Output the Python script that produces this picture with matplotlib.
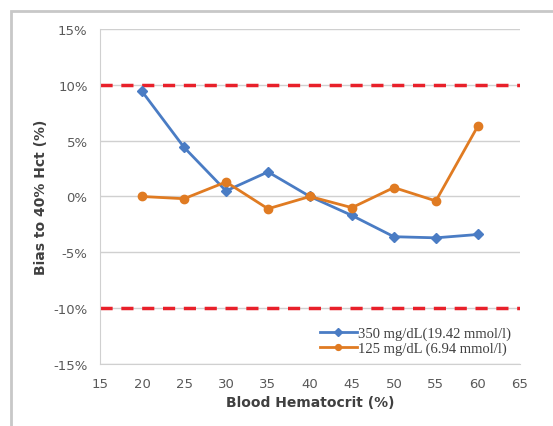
import numpy as np
import matplotlib
matplotlib.use('Agg')
import matplotlib.pyplot as plt
from matplotlib.patches import Rectangle
from matplotlib.ticker import FuncFormatter

hct = [20, 25, 30, 35, 40, 45, 50, 55, 60]
bias_350 = [9.4, 4.4, 0.5, 2.2, 0.0, -1.7, -3.6, -3.7, -3.4]
bias_125 = [0.0, -0.2, 1.3, -1.1, 0.0, -1.0, 0.8, -0.4, 6.3]
labels = ['350 mg/dL(19.42 mmol/l)', '125 mg/dL (6.94 mmol/l)']
limits = [10, -10]

fig = plt.figure(figsize=(5.53, 4.27), dpi=100)
# outer chart frame (runs off the bottom/right of the image)
fig.patches.append(Rectangle((0.02, -0.05), 1.1, 1.022, transform=fig.transFigure,
                             fill=False, edgecolor='#c8c8c8', lw=2))
ax = fig.add_axes([0.181, 0.145, 0.759, 0.785])

for v in limits:
    ax.axhline(v, color='#e8202a', lw=2.5, ls=(0, (3.5, 2.5)), zorder=2)
ax.plot(hct, bias_350, color='#4a7cc4', marker='D', ms=5.5, lw=2, label=labels[0], zorder=3)
ax.plot(hct, bias_125, color='#e07b22', marker='o', ms=6, lw=2, label=labels[1], zorder=3)

ax.set_xlim(15, 65)
ax.set_ylim(-15, 15)
ax.set_xticks(np.arange(15, 66, 5))
ax.set_yticks(np.arange(-15, 16, 5))
ax.yaxis.set_major_formatter(FuncFormatter(lambda v, p: '%d%%' % v))
ax.grid(axis='y', color='#d0d0d0', lw=1)
ax.set_axisbelow(True)
for s in ['top', 'right']:
    ax.spines[s].set_visible(False)
for s in ['left', 'bottom']:
    ax.spines[s].set_color('#d0d0d0')
ax.tick_params(length=0, colors='#595959', labelsize=9.5, pad=9)

ax.set_xlabel('Blood Hematocrit (%)', fontsize=10, fontweight='bold', color='#404040')
ax.set_ylabel('Bias to 40% Hct (%)', fontsize=10, fontweight='bold', color='#404040')

leg = ax.legend(loc='lower right', frameon=False,
                prop={'family': 'Liberation Serif', 'size': 10.5},
                handlelength=2.5, handletextpad=0.1, labelspacing=0.1,
                borderaxespad=0.2, markerscale=0.7)
for t in leg.get_texts():
    t.set_color('#404040')

fig.savefig('out.png', dpi=100)
